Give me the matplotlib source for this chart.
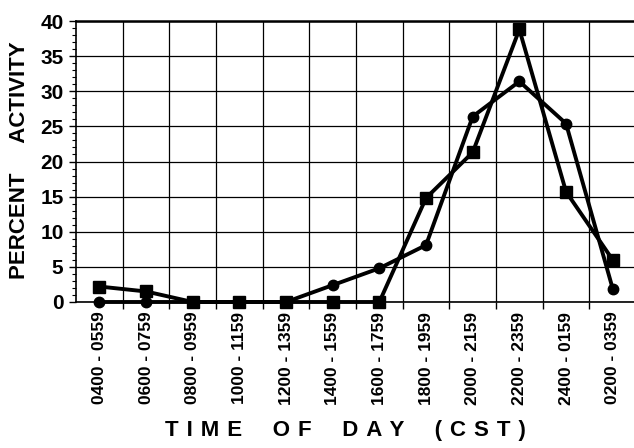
import numpy as np
import matplotlib
matplotlib.use("Agg")
import matplotlib.pyplot as plt
from matplotlib.ticker import MultipleLocator, FixedLocator

plt.rcParams['font.family'] = ['Liberation Sans', 'DejaVu Sans']
plt.rcParams['font.weight'] = 'bold'

# time bins (CST) and percent activity for the two series
periods = ["0400 - 0559", "0600 - 0759", "0800 - 0959", "1000 - 1159",
           "1200 - 1359", "1400 - 1559", "1600 - 1759", "1800 - 1959",
           "2000 - 2159", "2200 - 2359", "2400 - 0159", "0200 - 0359"]
squares = [2.2, 1.5, 0, 0, 0, 0, 0, 14.8, 21.3, 38.8, 15.7, 6.0]
circles = [0, 0, 0, 0, 0, 2.4, 4.8, 8.1, 26.4, 31.4, 25.4, 1.9]

x = np.arange(len(periods))

fig = plt.figure(figsize=(6.34, 4.48), dpi=100)
ax = fig.add_axes([0.1199, 0.3259, 0.8833, 0.6272])

ax.plot(x, squares, color="black", lw=2.8, marker="s", markersize=8,
        clip_on=False, zorder=4)
ax.plot(x, circles, color="black", lw=2.8, marker="o", markersize=7.5,
        clip_on=False, zorder=5)

ax.set_xlim(-0.5, len(periods) - 0.5)
ax.set_ylim(0, 40)

# y axis
ax.yaxis.set_major_locator(MultipleLocator(5))
ax.yaxis.set_minor_locator(MultipleLocator(1))
ax.tick_params(axis="y", which="major", direction="out", length=5, width=1,
               labelsize=15, pad=4)
ax.tick_params(axis="y", which="minor", direction="out", length=3, width=0.8)
for lab in ax.get_yticklabels():
    lab.set_fontweight("bold")

# x axis: labels at bin centers, ticks at bin edges
ax.set_xticks(x)
ax.set_xticklabels(periods, rotation=90, fontsize=12.5, fontweight="bold")
ax.xaxis.set_minor_locator(FixedLocator(np.arange(0.5, len(periods) - 0.5, 1)))
ax.tick_params(axis="x", which="major", length=0, pad=7)
ax.tick_params(axis="x", which="minor", direction="out", length=5, width=1)

ax.grid(True, axis="y", which="major", color="black", lw=0.9)
ax.grid(True, axis="x", which="minor", color="black", lw=0.9)

for side in ["left", "bottom"]:
    ax.spines[side].set_linewidth(1.2)
ax.spines["top"].set_linewidth(1.8)
ax.spines["right"].set_visible(False)

fig.text(0.030, 0.6417, "PERCENT     ACTIVITY", rotation=90, ha="center",
         va="center", fontsize=16, fontweight="bold")

# letter-spaced axis title
gap = " \u200a"
words = ["TIME", "OF", "DAY", "(CST)"]
xlabel = "     ".join(gap.join(w) for w in words)
fig.text(0.545, 0.040, xlabel, ha="center", va="center", fontsize=16,
         fontweight="bold")

fig.savefig("out.png", dpi=100)
